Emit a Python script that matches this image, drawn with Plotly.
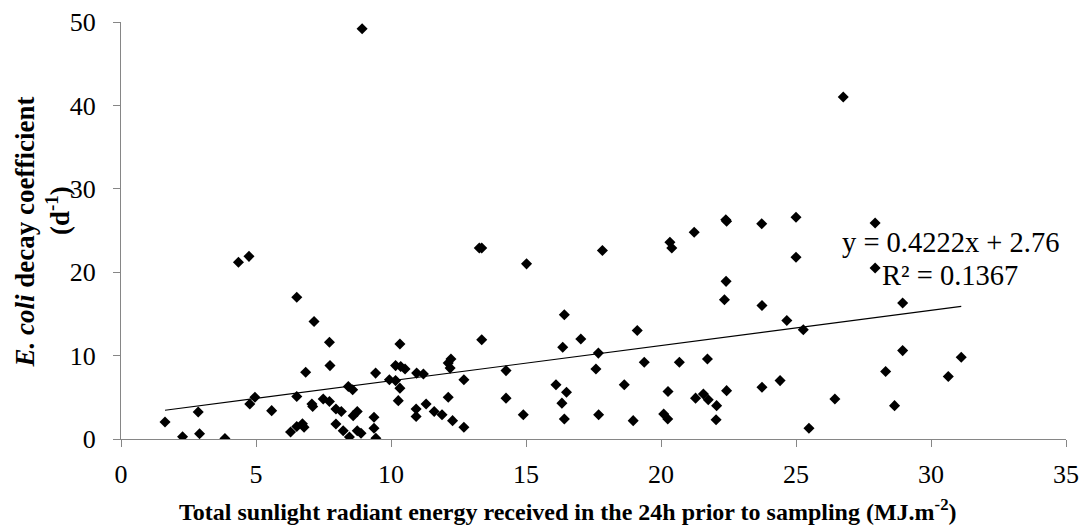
import plotly.graph_objects as go

# Total sunlight radiant energy (MJ/m2) and E. coli decay coefficient (1/d)
sunlight = [
    1.63, 2.28, 2.86, 2.91, 3.85, 4.35, 4.74, 4.77, 4.96, 5.58,
    6.51, 6.51, 6.28, 6.51, 6.72, 6.78, 6.84, 7.15, 7.07, 7.10,
    7.49, 7.72, 7.74, 7.72, 7.96, 7.96, 8.16, 8.23, 8.42, 8.58,
    8.46, 8.60, 8.75, 8.75, 8.89, 8.93, 9.43, 9.37, 9.37, 9.44,
    9.94, 10.17, 10.17, 10.33, 10.36, 10.52, 10.33, 10.27, 10.95, 11.20,
    10.93, 10.93, 11.30, 11.60, 11.89, 12.12, 12.22, 12.19, 12.12, 12.28,
    12.70, 12.70, 13.27, 13.36, 13.36, 14.26, 14.26, 14.90, 15.02, 16.11,
    16.36, 16.42, 16.50, 16.33, 16.42, 17.03, 17.68, 17.59, 17.69, 17.83,
    18.64, 18.97, 19.12, 19.38, 20.26, 20.10, 20.25, 20.33, 20.40, 20.68,
    21.23, 21.28, 21.57, 21.75, 21.72, 22.06, 22.04, 22.40, 22.43, 22.41,
    22.35, 22.43, 23.73, 23.74, 23.74, 24.41, 24.66, 25.00, 25.00, 25.27,
    25.48, 26.44, 26.75, 27.93, 27.93, 28.32, 28.65, 28.95, 28.95, 30.64,
    31.12,
]
decay = [
    2.04, 0.28, 3.24, 0.64, 0.07, 21.2, 21.9, 4.2, 5.0, 3.4,
    17.0, 5.1, 0.84, 1.5, 1.83, 1.4, 8.0, 14.1, 4.2, 3.9,
    4.8, 11.6, 8.8, 4.5, 3.6, 1.8, 3.3, 1.0, 6.3, 5.9,
    0.24, 2.8, 3.3, 1.0, 0.7, 49.2, 7.9, 2.6, 1.3, 0.1,
    7.1, 8.8, 7.0, 11.4, 8.7, 8.4, 6.1, 4.6, 7.9, 7.8,
    3.6, 2.7, 4.2, 3.3, 2.9, 9.1, 9.6, 8.5, 5.0, 2.2,
    7.1, 1.4, 22.9, 22.9, 11.9, 8.2, 4.9, 2.9, 21.0, 6.5,
    11.0, 14.9, 5.6, 4.3, 2.4, 12.0, 10.3, 8.4, 2.9, 22.6,
    6.5, 2.2, 13.0, 9.2, 5.7, 3.0, 2.4, 23.6, 22.9, 9.2,
    24.8, 4.9, 5.4, 4.7, 9.6, 4.0, 2.3, 26.3, 26.1, 18.9,
    16.7, 5.8, 25.8, 16.0, 6.2, 7.0, 14.2, 26.6, 21.8, 13.1,
    1.3, 4.8, 41.0, 25.9, 20.5, 8.1, 4.0, 16.3, 10.6, 7.5,
    9.8,
]

# Linear trendline reported on the chart
slope = 0.4222
intercept = 2.76
r_squared = 0.1367

x_ticks = [0, 5, 10, 15, 20, 25, 30, 35]
y_ticks = [0, 10, 20, 30, 40, 50]

FONT = "Liberation Serif"

trend_x = [min(sunlight), max(sunlight)]
trend_y = [slope * v + intercept for v in trend_x]

fig = go.Figure()
fig.add_trace(go.Scatter(
    x=sunlight, y=decay, mode="markers",
    marker=dict(symbol="diamond", size=8.5, color="black"),
    showlegend=False, hoverinfo="skip",
))
fig.add_trace(go.Scatter(
    x=trend_x, y=trend_y, mode="lines",
    line=dict(color="black", width=1.2),
    showlegend=False, hoverinfo="skip",
))

L, R, T, B = 121, 14, 22, 86
W, H = 1080, 525
pw, ph = W - L - R, H - T - B

def px2x(px):
    return (px - L) / pw

def py2y(py):
    return (H - B - py) / ph

axis_common = dict(
    showgrid=False, zeroline=False, showline=True,
    linecolor="#868686", linewidth=1,
    ticks="outside", ticklen=7, tickcolor="#868686", tickwidth=1,
    tickfont=dict(family=FONT, size=26, color="black"),
    automargin=False,
)

fig.update_xaxes(range=[0, 35], tickvals=x_ticks, ticktext=[str(v) for v in x_ticks],
                 ticklabelstandoff=5, **axis_common)
fig.update_yaxes(range=[0, 50], tickvals=y_ticks, ticktext=[str(v) for v in y_ticks],
                 ticklabelstandoff=12, **axis_common)

annotations = [
    dict(text="<b>Total sunlight radiant energy received in the 24h prior to sampling (MJ.m<sup>-2</sup>)</b>",
         xref="paper", yref="paper", x=px2x(568), y=py2y(510),
         xanchor="center", yanchor="middle", showarrow=False,
         font=dict(family=FONT, size=24, color="black")),
    dict(text="<b><i>E. coli</i> decay coefficient</b>",
         xref="paper", yref="paper", x=px2x(24), y=py2y(232.5),
         xanchor="center", yanchor="middle", textangle=-90, showarrow=False,
         font=dict(family=FONT, size=27, color="black")),
    dict(text="<b>(d<sup>-1</sup>)</b>",
         xref="paper", yref="paper", x=px2x(58), y=py2y(211),
         xanchor="center", yanchor="middle", textangle=-90, showarrow=False,
         font=dict(family=FONT, size=27, color="black")),
    dict(text=f"y = {slope}x + {intercept}",
         xref="paper", yref="paper", x=px2x(950), y=py2y(242),
         xanchor="center", yanchor="middle", showarrow=False,
         font=dict(family=FONT, size=28.5, color="black")),
    dict(text=f"R² = {r_squared}",
         xref="paper", yref="paper", x=px2x(950), y=py2y(275),
         xanchor="center", yanchor="middle", showarrow=False,
         font=dict(family=FONT, size=28.5, color="black")),
]

fig.update_layout(
    width=W, height=H,
    margin=dict(l=L, r=R, t=T, b=B),
    paper_bgcolor="white", plot_bgcolor="white",
    font=dict(family=FONT, color="black"),
    annotations=annotations,
)

fig.write_html("out.html")
